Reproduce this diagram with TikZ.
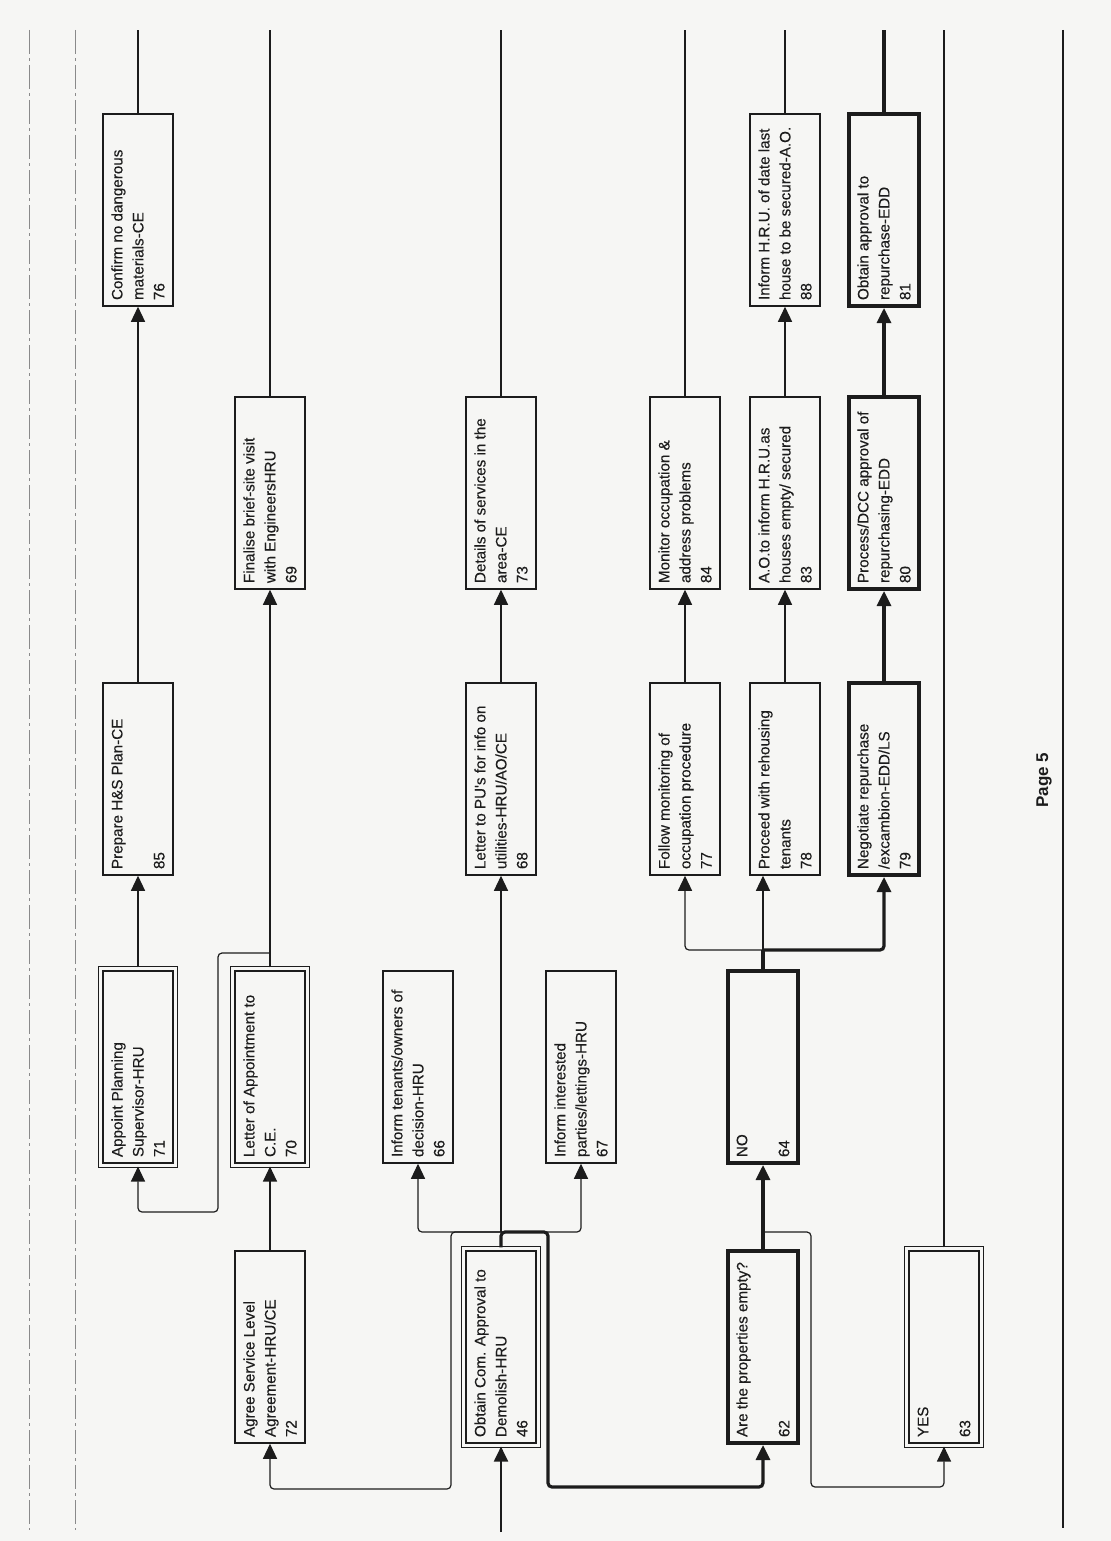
\documentclass[tikz,border=0pt]{standalone}
\usepackage{fontspec}
\setmainfont{Liberation Sans}
\newfontfamily\scanfont[FakeBold=0.3]{Liberation Sans}
\usepackage{graphicx}
\usetikzlibrary{arrows.meta,fit}
\definecolor{Ink}{HTML}{1C1C1C}
\definecolor{Paper}{HTML}{F6F6F4}
\definecolor{Rule}{HTML}{8A8A8A}
\newcommand{\steptext}[3]{\rotatebox{90}{\parbox{90pt}{\raggedright #1\\\strut #2\\#3}}}
\tikzset{
  stepbox/.style={
    draw=Ink, line width=0.75pt, text=Ink, inner sep=1pt,
    minimum width=35pt, minimum height=96pt,
    font=\scanfont\fontsize{7.6}{10.5}\selectfont
  },
  keybox/.style={stepbox, line width=2pt},
  inbox/.style={stepbox, line width=1.2pt},
  outframe/.style={draw=Ink, line width=0.35pt, double=Paper, double distance=0.9pt, inner sep=1pt},
  link/.style={draw=Ink, line width=0.6pt, rounded corners=2pt, -{Triangle[length=7.5pt,width=7pt]}},
  boldlink/.style={link, line width=1.6pt},
  entrylink/.style={link, line width=1pt},
  wire/.style={draw=Ink, line width=0.6pt, rounded corners=2pt},
  boldwire/.style={wire, line width=1.6pt},
  margin/.style={draw=Rule, line width=0.4pt, dash pattern=on 12pt off 2pt on 1.5pt off 2pt}
}
\begin{document}
\begin{tikzpicture}[x=0.5pt,y=-0.5pt]
  \fill[Paper] (0,0) rectangle (1111,1541);
  \useasboundingbox (0,0) rectangle (1111,1541);
  \draw[margin] (29,30) -- (29,1530);
  \draw[margin] (75,30) -- (75,1530);
  \draw[wire] (1063,30) -- (1063,1528);

  \node[stepbox] (n72) at (270,1347) {\steptext{Agree Service Level}{Agreement-HRU/CE}{72}};
  \node[inbox] (n46) at (501,1347) {\steptext{Obtain Com. Approval to}{Demolish-HRU}{46}};
  \node[outframe, fit=(n46)] (n46f) {};
  \node[keybox] (n62) at (763,1347) {\steptext{Are the properties empty?}{}{62}};
  \node[inbox] (n63) at (944,1347) {\steptext{YES}{}{63}};
  \node[outframe, fit=(n63)] (n63f) {};

  \node[inbox] (n71) at (138,1067) {\steptext{Appoint Planning}{Supervisor-HRU}{71}};
  \node[outframe, fit=(n71)] (n71f) {};
  \node[inbox] (n70) at (270,1067) {\steptext{Letter of Appointment to}{C.E.}{70}};
  \node[outframe, fit=(n70)] (n70f) {};
  \node[stepbox] (n66) at (418,1067) {\steptext{Inform tenants/owners of}{decision-HRU}{66}};
  \node[stepbox] (n67) at (581,1067) {\steptext{Inform interested}{parties/lettings-HRU}{67}};
  \node[keybox] (n64) at (763,1067) {\steptext{NO}{}{64}};

  \node[stepbox] (n85) at (138,779) {\steptext{Prepare H\&S Plan-CE}{}{85}};
  \node[stepbox] (n68) at (501,779) {\steptext{Letter to PU's for info on}{utilities-HRU/AO/CE}{68}};
  \node[stepbox] (n77) at (685,779) {\steptext{Follow monitoring of}{occupation procedure}{77}};
  \node[stepbox] (n78) at (785,779) {\steptext{Proceed with rehousing}{tenants}{78}};
  \node[keybox] (n79) at (884,779) {\steptext{Negotiate repurchase}{/excambion-EDD/LS}{79}};

  \node[stepbox] (n69) at (270,493) {\steptext{Finalise brief-site visit}{with EngineersHRU}{69}};
  \node[stepbox] (n73) at (501,493) {\steptext{Details of services in the}{area-CE}{73}};
  \node[stepbox] (n84) at (685,493) {\steptext{Monitor occupation \&}{address problems}{84}};
  \node[stepbox] (n83) at (785,493) {\steptext{A.O.to inform H.R.U.as}{houses empty/ secured}{83}};
  \node[keybox] (n80) at (884,493) {\steptext{Process/DCC approval of}{repurchasing-EDD}{80}};

  \node[stepbox] (n76) at (138,210) {\steptext{Confirm no dangerous}{materials-CE}{76}};
  \node[stepbox] (n88) at (785,210) {\steptext{Inform H.R.U. of date last}{house to be secured-A.O.}{88}};
  \node[keybox] (n81) at (884,210) {\steptext{Obtain approval to}{repurchase-EDD}{81}};

  \node[text=Ink, font=\bfseries\fontsize{8.5}{10}\selectfont] (pg) at (1044,780) {\rotatebox{90}{Page 5}};

  \coordinate (top) at (0,30);
  \coordinate (entry) at (501,1532);
  \coordinate (jA) at (501,1232);
  \coordinate (jB) at (763,1232);
  \coordinate (jC) at (763,950);
  \coordinate (jD) at (270,953);

  \draw[entrylink] (entry) -- (n46f.south);
  \draw[boldlink] (n46f.north) |- (548,1232) -- (548,1487) -| (n62.south);
  \draw[link] (jA) -| (n66.south);
  \draw[link] (jA) -| (n67.south);
  \draw[link] (jA) -- (n68.south);
  \draw[link] (jA) -| (451,1489) -| (n72.south);
  \draw[link] (n72.north) -- (n70f.south);
  \draw[link] (n70f.north) -- (n69.south);
  \draw[link] (jD) -| (218,1212) -| (n71f.south);
  \draw[link] (n71f.north) -- (n85.south);
  \draw[link] (n85.north) -- (n76.south);
  \draw[link] (n68.north) -- (n73.south);
  \draw[boldlink] (n62.north) -- (n64.south);
  \draw[link] (jB) -| (811,1487) -| (n63f.south);
  \draw[boldwire] (n64.north) -- (jC);
  \draw[link] (jC) -| (n77.south);
  \draw[link] (jC) -- (jC |- n78.south);
  \draw[boldlink] (jC) -| (n79.south);
  \draw[link] (n77.north) -- (n84.south);
  \draw[link] (n78.north) -- (n83.south);
  \draw[link] (n83.north) -- (n88.south);
  \draw[boldlink] (n79.north) -- (n80.south);
  \draw[boldlink] (n80.north) -- (n81.south);

  \draw[wire] (n76.north) -- (n76.north |- top);
  \draw[wire] (n69.north) -- (n69.north |- top);
  \draw[wire] (n73.north) -- (n73.north |- top);
  \draw[wire] (n84.north) -- (n84.north |- top);
  \draw[wire] (n88.north) -- (n88.north |- top);
  \draw[boldwire] (n81.north) -- (n81.north |- top);
  \draw[wire] (n63f.north) -- (n63f.north |- top);
\end{tikzpicture}
\end{document}
